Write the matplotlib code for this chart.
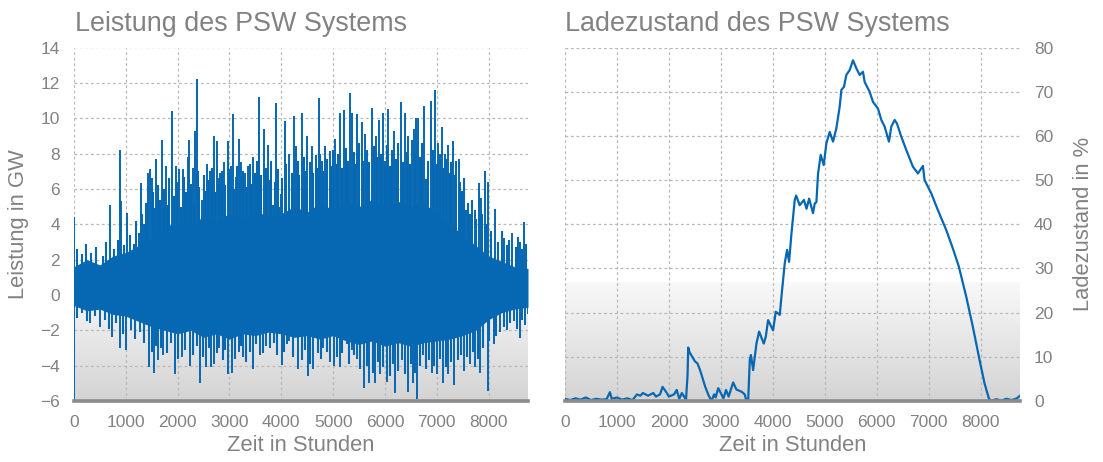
import numpy as np
import matplotlib
matplotlib.use("Agg")
import matplotlib.pyplot as plt

# ---------------- data ----------------
# Left panel: power of the pumped-storage system (GW)
# dense core of the trace (upper / lower edge)
core_hours = [0, 250, 500, 750, 1000, 1250, 1500, 1750, 2000, 2250, 2500, 2750,
              3000, 3250, 3500, 3750, 4000, 4250, 4500, 4750, 5000, 5250, 5500,
              5750, 6000, 6250, 6500, 6750, 7000, 7250, 7500, 7750, 8000, 8250,
              8500, 8750, 8760]
core_hi = [1.6, 2.0, 1.7, 2.2, 2.4, 2.8, 3.2, 3.8, 4.2, 3.8, 4.5, 4.2,
           4.6, 4.3, 4.8, 4.4, 4.6, 5.0, 4.7, 5.2, 4.8, 5.3, 5.0,
           5.4, 5.1, 5.3, 5.0, 5.2, 4.6, 4.0, 3.4, 2.8, 2.2, 1.9,
           1.6, 1.5, 1.5]
core_lo = [-0.6, -0.9, -0.8, -1.1, -1.2, -1.5, -1.8, -2.0, -2.2, -2.0, -2.4, -2.2,
           -2.5, -2.2, -2.3, -2.1, -2.2, -2.4, -2.3, -2.5, -2.3, -2.6, -2.8,
           -2.6, -2.9, -2.7, -2.9, -2.7, -2.6, -2.5, -2.3, -2.0, -1.4, -1.0,
           -0.8, -0.7, -0.7]

# tall positive peaks
up_hours = [0, 703, 883, 900, 1025, 1289, 1350, 1430, 1463, 1500, 1580, 1695,
            1772, 1888, 1960, 2030, 2100, 2190, 2222, 2290, 2338, 2377, 2470,
            2557, 2630, 2700, 2760, 2810, 2893, 2970, 3020, 3060, 3130, 3182,
            3230, 3300, 3360, 3460, 3570, 3575, 3660, 3740, 3840, 3897, 3960,
            3990, 4064, 4150, 4245, 4280, 4400, 4500, 4590, 4721, 4780, 4850,
            4930, 5040, 5133, 5217, 5326, 5360, 5470, 5550, 5620, 5751, 5820,
            5893, 5958, 6061, 6180, 6306, 6390, 6450, 6520, 6560, 6602, 6640,
            6757, 6800, 6886, 6975, 7030, 7091, 7150, 7210, 7310, 7420, 7568,
            7729, 7812, 7850, 7928, 7990, 8122, 8300, 8450, 8600, 8675]
up_vals = [4.4, 5.1, 8.2, 5.3, 4.65, 6.35, 4.0, 6.9, 7.1, 6.6, 7.7, 8.75,
           7.3, 10.4, 7.3, 7.1, 7.1, 7.8, 8.75, 7.2, 9.3, 12.2, 5.4,
           7.4, 7.0, 9.0, 8.7, 6.9, 7.5, 8.7, 7.3, 10.25, 6.7, 8.8,
           7.5, 6.9, 7.3, 7.8, 8.8, 11.2, 9.4, 8.5, 5.1, 10.85, 5.0,
           5.7, 9.85, 8.0, 10.1, 8.4, 10.3, 9.0, 8.4, 11.15, 7.6, 8.4,
           8.15, 8.8, 10.3, 10.45, 11.45, 10.3, 10.25, 9.8, 9.1, 10.6, 9.0,
           9.9, 10.3, 10.5, 9.3, 10.9, 10.3, 9.0, 8.75, 9.4, 10.0, 10.0,
           10.7, 6.55, 11.0, 11.6, 8.6, 9.5, 8.0, 8.5, 8.7, 7.7, 4.8,
           4.8, 6.35, 5.5, 7.0, 6.4, 4.85, 3.2, 3.5, 3.0, 4.1]

# medium positive peaks
mid_up_hours = [60, 150, 230, 330, 420, 560, 620, 780, 840, 960, 1080, 1150,
                1200, 1260, 1310, 1380, 1410, 1520, 1560, 1620, 1650, 1730,
                1800, 1830, 1920, 1990, 2060, 2130, 2160, 2250, 2310, 2400,
                2420, 2500, 2530, 2590, 2660, 2730, 2790, 2850, 2920, 3000,
                3090, 3150, 3200, 3270, 3330, 3400, 3430, 3500, 3530, 3610,
                3700, 3780, 3810, 3870, 3930, 4020, 4100, 4200, 4320, 4350,
                4440, 4470, 4550, 4620, 4670, 4700, 4750, 4810, 4880, 4960,
                5000, 5080, 5100, 5170, 5250, 5290, 5400, 5430, 5500, 5580,
                5650, 5700, 5780, 5850, 5920, 6000, 6030, 6100, 6140, 6220,
                6260, 6340, 6420, 6480, 6580, 6680, 6720, 6840, 6920, 7000,
                7060, 7120, 7180, 7250, 7280, 7350, 7380, 7450, 7490, 7520,
                7600, 7650, 7680, 7760, 7880, 7950, 8050, 8180, 8250, 8350,
                8400, 8520, 8560, 8650, 8720]
mid_up_vals = [2.6, 2.3, 2.9, 2.4, 2.7, 2.2, 3.0, 2.6, 3.1, 2.8, 3.4, 2.9,
               4.2, 3.5, 4.6, 5.2, 3.8, 5.8, 4.9, 6.2, 5.4, 6.0,
               5.1, 6.6, 5.6, 6.4, 5.0, 6.7, 5.8, 6.3, 5.2, 7.0,
               6.1, 6.8, 5.9, 6.5, 7.2, 5.8, 6.6, 7.0, 6.2, 7.1,
               6.0, 7.3, 6.4, 7.0, 6.1, 7.4, 6.3, 6.9, 7.6, 6.8,
               7.2, 6.5, 7.6, 6.4, 7.1, 6.6, 7.4, 6.9, 7.6, 6.8,
               7.8, 7.0, 7.5, 6.9, 7.9, 7.2, 8.0, 7.0, 7.7, 7.3,
               8.2, 7.4, 8.0, 7.2, 8.3, 7.6, 8.1, 7.4, 8.6, 7.6,
               8.2, 7.5, 8.4, 7.8, 8.0, 7.6, 8.5, 7.3, 8.2, 7.7,
               8.6, 7.5, 8.1, 7.4, 8.0, 7.8, 8.6, 7.6, 8.2, 7.4,
               8.0, 7.2, 7.7, 6.9, 7.5, 6.8, 7.6, 6.4, 5.9, 6.6,
               5.2, 4.6, 5.4, 4.3, 4.6, 4.0, 3.6, 3.0, 3.6, 2.8,
               3.1, 2.7, 3.3, 2.6, 2.9]

# deep negative peaks
down_hours = [0, 300, 500, 740, 883, 1012, 1100, 1280, 1450, 1540, 1620, 1720,
              1946, 2080, 2235, 2429, 2540, 2640, 2700, 2800, 2975, 3050, 3180,
              3260, 3460, 3590, 3700, 4007, 4103, 4150, 4328, 4521, 4618, 4811,
              4940, 5024, 5133, 5262, 5359, 5455, 5603, 5700, 5810, 5906, 6035,
              6196, 6325, 6453, 6550, 6615, 6743, 6905, 7001, 7117, 7226, 7323,
              7516, 7645, 7742, 7838, 7980, 8095, 8225, 8354, 8482, 8600, 8708,
              8755]
down_vals = [-6.0, -1.6, -1.8, -2.4, -3.0, -3.1, -2.0, -2.1, -4.1, -4.4, -3.7, -3.4,
             -4.5, -3.5, -4.0, -5.0, -4.1, -4.1, -3.9, -3.0, -4.5, -4.4, -3.2,
             -3.5, -4.2, -3.4, -2.9, -3.95, -2.8, -2.6, -4.2, -4.6, -4.2, -3.0,
             -3.8, -4.0, -4.1, -2.8, -3.1, -3.6, -5.26, -5.0, -5.0, -4.5, -4.9,
             -5.55, -3.7, -5.5, -5.0, -5.9, -3.4, -4.4, -4.5, -5.0, -4.5, -5.07,
             -4.3, -3.9, -4.1, -4.4, -5.46, -2.8, -2.1, -2.0, -1.5, -2.43, -1.7,
             -1.1]

# medium negative peaks
mid_down_hours = [50, 150, 250, 400, 600, 680, 820, 950, 1180, 1350, 1500, 1580,
                  1680, 1800, 1880, 2000, 2150, 2300, 2370, 2480, 2600, 2760,
                  2880, 2920, 3100, 3220, 3320, 3400, 3520, 3640, 3780, 3850,
                  3920, 4060, 4220, 4400, 4460, 4560, 4700, 4760, 4880, 5080,
                  5180, 5300, 5400, 5520, 5650, 5760, 5860, 5960, 6100, 6150,
                  6260, 6380, 6500, 6580, 6680, 6800, 6850, 6950, 7060, 7170,
                  7280, 7400, 7460, 7580, 7700, 7800, 7900, 8000, 8150, 8300,
                  8420, 8550, 8650]
mid_down_vals = [-1.3, -1.0, -1.5, -1.2, -1.4, -1.9, -1.6, -2.2, -2.5, -2.7, -3.2, -2.9,
                 -3.0, -3.3, -2.7, -3.6, -3.1, -3.4, -2.9, -3.5, -3.0, -3.3,
                 -3.7, -3.1, -3.6, -2.9, -3.8, -3.2, -2.8, -3.3, -3.0, -2.7,
                 -3.4, -3.2, -3.5, -3.7, -3.1, -3.9, -3.3, -3.6, -3.2, -3.5,
                 -3.3, -3.9, -3.4, -4.2, -4.0, -4.4, -3.8, -4.1, -4.6, -3.9,
                 -4.3, -4.5, -3.9, -4.4, -4.0, -4.2, -3.7, -4.0, -3.6, -4.1,
                 -3.8, -3.7, -3.4, -3.5, -3.2, -3.6, -3.0, -2.6, -2.3, -1.8,
                 -1.6, -1.9, -1.4]

# Right panel: state of charge (%)
soc_hours = [0, 100, 200, 300, 400, 500, 600, 700, 800, 865, 900, 1000, 1100,
             1200, 1300, 1385, 1450, 1500, 1600, 1700, 1750, 1830, 1878, 1950,
             2000, 2100, 2150, 2200, 2250, 2330, 2360, 2372, 2400, 2450, 2500,
             2550, 2600, 2650, 2700, 2760, 2821, 2870, 2900, 2950, 3000, 3050,
             3100, 3150, 3237, 3300, 3400, 3460, 3494, 3526, 3558, 3580, 3622,
             3686, 3737, 3827, 3865, 3910, 4006, 4058, 4135, 4167, 4231, 4276,
             4314, 4360, 4423, 4450, 4519, 4600, 4650, 4700, 4775, 4808, 4840,
             4872, 4923, 4981, 5032, 5096, 5160, 5224, 5288, 5321, 5371, 5417,
             5481, 5545, 5609, 5673, 5737, 5769, 5865, 5929, 6025, 6090, 6154,
             6237, 6282, 6346, 6391, 6475, 6571, 6699, 6795, 6891, 6923, 7051,
             7179, 7340, 7468, 7583, 7725, 7852, 7981, 8077, 8160, 8200, 8300,
             8400, 8500, 8600, 8700, 8760]
soc_vals = [0.5, 0.2, 0.6, 0.3, 0.8, 0.2, 0.5, 0.3, 0.4, 2.0, 0.5, 0.8, 0.3,
            0.6, 0.2, 1.5, 1.2, 1.8, 1.2, 1.8, 1.0, 1.5, 3.2, 2.0,
            1.0, 1.5, 2.5, 0.5, 1.8, 0.3, 6.0, 12.1, 11.0, 10.0, 9.0,
            8.5, 7.0, 5.1, 3.2, 1.4, 0.0, 1.5, 0.8, 2.9, 1.8, 0.6,
            2.5, 1.0, 4.2, 2.6, 2.1, 1.5, 0.0, 0.0, 9.3, 10.4, 7.0,
            13.0, 15.7, 13.0, 14.5, 18.3, 16.0, 20.2, 19.5, 23.6, 31.2, 34.2,
            31.5, 37.9, 45.5, 46.5, 44.3, 45.5, 43.5, 45.8, 42.5, 44.7, 45.0,
            51.5, 55.7, 53.4, 58.3, 60.9, 58.7, 61.7, 66.6, 70.4, 71.1, 73.8,
            74.9, 77.1, 75.3, 73.8, 74.5, 72.2, 70.0, 67.7, 66.2, 63.6, 62.1,
            58.7, 62.1, 63.6, 62.8, 59.8, 56.8, 53.0, 51.5, 53.2, 50.0, 47.0,
            43.2, 38.7, 34.5, 30.4, 23.6, 16.8, 9.3, 4.0, 0.6, 0.0, 0.4,
            0.1, 0.5, 0.2, 0.6, 1.2]

x_ticks = [0, 1000, 2000, 3000, 4000, 5000, 6000, 7000, 8000]
left_yticks = [-6, -4, -2, 0, 2, 4, 6, 8, 10, 12, 14]
right_yticks = [0, 10, 20, 30, 40, 50, 60, 70, 80]

# ---------------- style ----------------
plt.rcParams['font.family'] = ['Liberation Sans', 'DejaVu Sans']
BLUE = '#0667b2'
GRAY_TXT = '#828282'
GRID = '#b8b8b8'
W, H = 1103, 462
fig = plt.figure(figsize=(W / 100, H / 100), dpi=100)

ax1 = fig.add_axes([74 / W, 1 - 401 / H, (528 - 74) / W, (401 - 47.5) / H])
ax2 = fig.add_axes([565 / W, 1 - 401 / H, (1020 - 565) / W, (401 - 47.5) / H])

# gradient behind the data (bottom third of each panel)
g = np.linspace(0.83, 0.975, 256)[:, None]
grad = np.clip(np.dstack([g, g, g + 0.01 * (1 - g)]), 0, 1)


def style(ax, ylim):
    ax.imshow(grad, extent=[0, 1, 0, 0.335], transform=ax.transAxes,
              origin='lower', aspect='auto', zorder=0.1, interpolation='bilinear')
    ax.set_xlim(0, 8760)
    ax.set_ylim(*ylim)
    ax.set_axisbelow(True)
    ax.grid(True, linestyle=(0, (2.2, 2.2)), color=GRID, linewidth=0.9)
    for s in ['left', 'right', 'top']:
        ax.spines[s].set_visible(False)
    ax.spines['bottom'].set_color('#8a8a8a')
    ax.spines['bottom'].set_linewidth(2.6)
    ax.spines['bottom'].set_zorder(5)
    ax.set_xticks(x_ticks)
    ax.tick_params(length=0, labelsize=12.5, colors=GRAY_TXT, pad=10)
    ax.set_xlabel('Zeit in Stunden', fontsize=15.8, color=GRAY_TXT, labelpad=4)


# ---- left panel ----
style(ax1, (-6, 14))
ax1.set_yticks(left_yticks)
ax1.fill_between(core_hours, core_lo, core_hi, color=BLUE, lw=0, zorder=2)
ax1.vlines(mid_up_hours, 0, mid_up_vals, color=BLUE, lw=1.5, zorder=2)
ax1.vlines(mid_down_hours, 0, mid_down_vals, color=BLUE, lw=1.5, zorder=2)
ax1.vlines(up_hours, 0, up_vals, color=BLUE, lw=1.4, zorder=2)
ax1.vlines(down_hours, 0, down_vals, color=BLUE, lw=1.4, zorder=2)
ax1.set_ylabel('Leistung in GW', fontsize=15.8, color=GRAY_TXT, labelpad=8)
fig.text(75 / W, 1 - 31 / H, 'Leistung des PSW Systems', fontsize=19.4,
         color=GRAY_TXT, va='baseline', ha='left')

# ---- right panel ----
style(ax2, (0, 80))
ax2.set_yticks(right_yticks)
ax2.yaxis.tick_right()
ax2.yaxis.set_label_position('right')
ax2.plot(soc_hours, soc_vals, color=BLUE, lw=1.6, zorder=2)
ax2.set_ylabel('Ladezustand in %', fontsize=15.8, color=GRAY_TXT, labelpad=14)
fig.text(565 / W, 1 - 31 / H, 'Ladezustand des PSW Systems', fontsize=19.4,
         color=GRAY_TXT, va='baseline', ha='left')

fig.savefig('out.png', dpi=100)
